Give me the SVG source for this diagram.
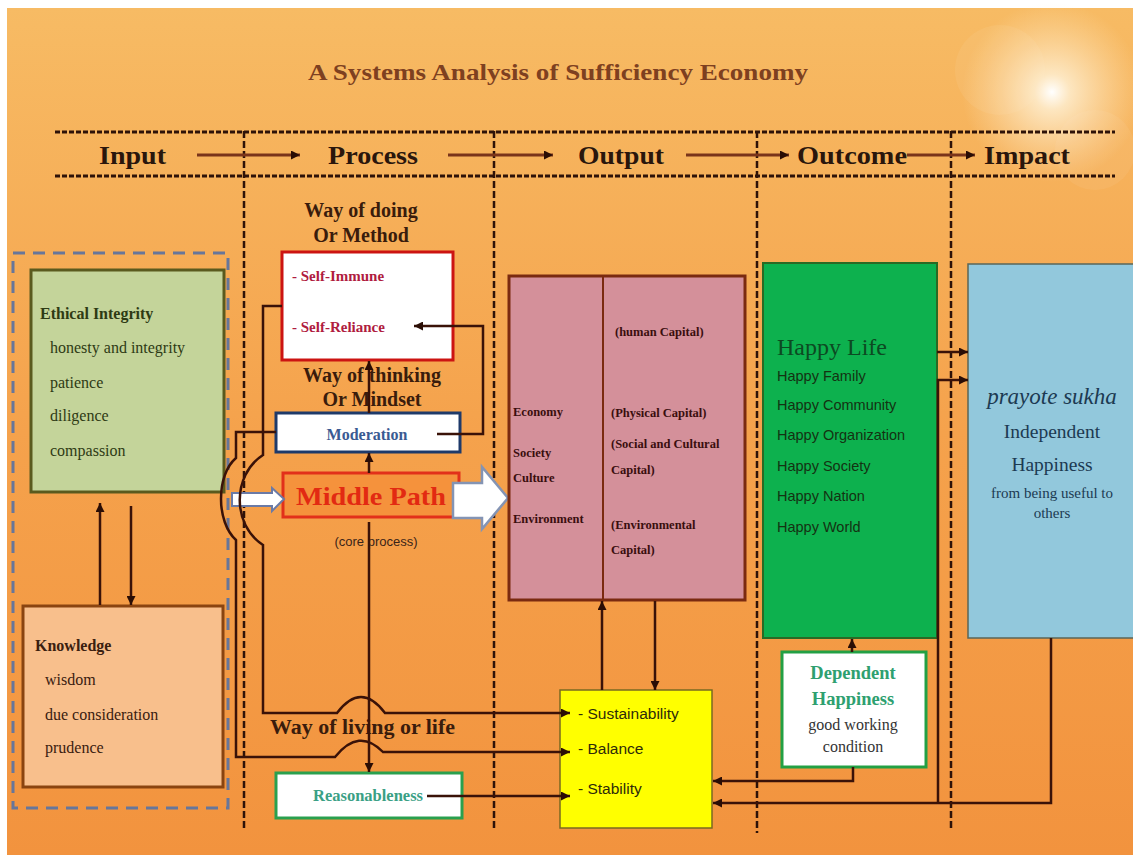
<svg xmlns="http://www.w3.org/2000/svg" width="1133" height="855" viewBox="0 0 1133 855">
  <defs>
    <linearGradient id="bg" x1="0" y1="0" x2="0" y2="1">
      <stop offset="0" stop-color="#f7bb64"/>
      <stop offset="0.5" stop-color="#f5a24c"/>
      <stop offset="1" stop-color="#f2933e"/>
    </linearGradient>
    <radialGradient id="sun" cx="0.5" cy="0.5" r="0.5">
      <stop offset="0" stop-color="#ffffff" stop-opacity="1"/>
      <stop offset="0.2" stop-color="#fff6e0" stop-opacity="0.75"/>
      <stop offset="1" stop-color="#ffe8c0" stop-opacity="0"/>
    </radialGradient>
    <marker id="ah" viewBox="0 0 10 10" refX="10" refY="5" markerWidth="9" markerHeight="9" markerUnits="userSpaceOnUse" orient="auto">
      <path d="M0,0 L10,5 L0,10 z" fill="#2a0d05"/>
    </marker>
  </defs>
  <style>
    .serif { font-family: "Liberation Serif", "Times New Roman", serif; }
    .sans { font-family: "Liberation Sans", Arial, sans-serif; }
    .hdr { font-family: "Liberation Serif", serif; font-weight: bold; font-size: 26px; fill: #2a160c; }
    .hline { stroke: #2e1208; stroke-width: 3; stroke-dasharray: 5 2; fill: none; }
    .vline { stroke: #2e1208; stroke-width: 2.5; stroke-dasharray: 7 3; fill: none; }
    .harrow { stroke: #7a341a; stroke-width: 3; fill: none; }
    .conn { stroke: #3a1208; stroke-width: 2.5; fill: none; }
    .sub { font-family: "Liberation Serif", serif; font-weight: bold; font-size: 20px; fill: #3a1c0c; }
    .eth { font-family: "Liberation Serif", serif; font-size: 16px; fill: #2e3a14; }
    .kno { font-family: "Liberation Serif", serif; font-size: 16px; fill: #3a2010; }
    .out { font-family: "Liberation Serif", serif; font-weight: bold; font-size: 12.5px; fill: #3a0e0e; }
    .hap { font-family: "Liberation Sans", sans-serif; font-size: 14.5px; fill: #143212; }
    .yel { font-family: "Liberation Sans", sans-serif; font-size: 15.5px; fill: #2e2a0a; }
    .imp { font-family: "Liberation Serif", serif; fill: #1c3a52; text-anchor: middle; }
  </style>

  <rect x="0" y="0" width="1133" height="855" fill="#ffffff"/>
  <rect x="7" y="8" width="1126" height="847" fill="url(#bg)"/>
  <circle cx="1052" cy="92" r="90" fill="url(#sun)"/>
  <circle cx="1000" cy="70" r="45" fill="#fff3dc" opacity="0.08"/>
  <circle cx="1095" cy="150" r="40" fill="#fff3dc" opacity="0.07"/>

  <text x="558" y="80" text-anchor="middle" class="serif" font-weight="bold" font-size="24" fill="#7e4020" textLength="500" lengthAdjust="spacingAndGlyphs">A Systems Analysis of Sufficiency Economy</text>

  <g id="header">
    <line x1="55" y1="132" x2="1115" y2="132" class="hline"/>
    <line x1="55" y1="176" x2="1115" y2="176" class="hline"/>
    <line x1="244" y1="131" x2="244" y2="828" class="vline"/>
    <line x1="494" y1="131" x2="494" y2="828" class="vline"/>
    <line x1="757" y1="131" x2="757" y2="833" class="vline"/>
    <line x1="951" y1="131" x2="951" y2="828" class="vline"/>
    <text x="99" y="164" class="hdr" textLength="67" lengthAdjust="spacingAndGlyphs">Input</text>
    <text x="328" y="164" class="hdr" textLength="90" lengthAdjust="spacingAndGlyphs">Process</text>
    <text x="578" y="164" class="hdr" textLength="86" lengthAdjust="spacingAndGlyphs">Output</text>
    <text x="797" y="164" class="hdr" textLength="110" lengthAdjust="spacingAndGlyphs">Outcome</text>
    <text x="984" y="164" class="hdr" textLength="86" lengthAdjust="spacingAndGlyphs">Impact</text>
    <line x1="197" y1="155" x2="300" y2="155" class="harrow" marker-end="url(#ah)"/>
    <line x1="448" y1="155" x2="553" y2="155" class="harrow" marker-end="url(#ah)"/>
    <line x1="686" y1="155" x2="789" y2="155" class="harrow" marker-end="url(#ah)"/>
    <line x1="907" y1="155" x2="975" y2="155" class="harrow" marker-end="url(#ah)"/>
  </g>

  <g id="input-group">
    <rect x="13" y="253" width="215" height="555" fill="none" stroke="#67769a" stroke-width="3" stroke-dasharray="12 8"/>
  </g>

  <g id="ethical-integrity">
    <rect x="31" y="270" width="193" height="222" fill="#c4d49a" stroke="#5a5a1e" stroke-width="3"/>
    <text x="40" y="319" class="eth" font-weight="bold" fill="#22280e">Ethical Integrity</text>
    <text x="50" y="353" class="eth">honesty and integrity</text>
    <text x="50" y="388" class="eth">patience</text>
    <text x="50" y="421" class="eth">diligence</text>
    <text x="50" y="456" class="eth">compassion</text>
  </g>

  <g id="knowledge">
    <rect x="23" y="606" width="200" height="181" fill="#f8bf8c" stroke="#8a4410" stroke-width="3"/>
    <text x="35" y="651" class="kno" font-weight="bold" fill="#2a140a">Knowledge</text>
    <text x="45" y="685" class="kno">wisdom</text>
    <text x="45" y="720" class="kno">due consideration</text>
    <text x="45" y="753" class="kno">prudence</text>
  </g>

  <g id="process-labels">
    <text x="361" y="217" text-anchor="middle" class="sub">Way of doing</text>
    <text x="361" y="242" text-anchor="middle" class="sub">Or Method</text>
    <text x="372" y="382" text-anchor="middle" class="sub">Way of thinking</text>
    <text x="372" y="406" text-anchor="middle" class="sub">Or Mindset</text>
    <text x="270" y="734" class="sub" textLength="185" lengthAdjust="spacingAndGlyphs">Way of living or life</text>
  </g>

  <g id="self-box">
    <rect x="282" y="252" width="171" height="108" fill="#ffffff" stroke="#cc1412" stroke-width="3"/>
    <text x="292" y="281" class="serif" font-weight="bold" font-size="15" fill="#b01c40">- Self-Immune</text>
    <text x="292" y="332" class="serif" font-weight="bold" font-size="15" fill="#b01c40">- Self-Reliance</text>
  </g>

  <g id="moderation">
    <rect x="276" y="413" width="184" height="39" fill="#ffffff" stroke="#1e3a6a" stroke-width="3"/>
    <text x="367" y="440" text-anchor="middle" class="serif" font-weight="bold" font-size="16" fill="#3a5a92">Moderation</text>
  </g>

  <g id="middle-path">
    <rect x="283" y="473" width="176" height="44" fill="#f5923c" stroke="#e2301a" stroke-width="3"/>
    <text x="371" y="505" text-anchor="middle" class="serif" font-weight="bold" font-size="26" fill="#e22a12" textLength="150" lengthAdjust="spacingAndGlyphs">Middle Path</text>
    <text x="376" y="546" text-anchor="middle" class="sans" font-size="13" fill="#3a2418">(core process)</text>
  </g>

  <g id="reasonableness">
    <rect x="276" y="773" width="186" height="45" fill="#ffffff" stroke="#2aa04e" stroke-width="3"/>
    <text x="368" y="801" text-anchor="middle" class="serif" font-weight="bold" font-size="16.5" fill="#3aa085">Reasonableness</text>
  </g>

  <g id="input-arrow">
    <polygon points="232,493 272,493 272,488 284,499 272,511 272,506 232,506" fill="#ffffff" stroke="#6a7aa6" stroke-width="2"/>
  </g>
  <g id="output-arrow">
    <polygon points="453,483 482,483 482,467 508,498 482,529 482,518 453,518" fill="#ffffff" stroke="#8494b4" stroke-width="2.5"/>
  </g>

  <g id="output">
    <rect x="509" y="276" width="236" height="324" fill="#d4909a" stroke="#7a2a10" stroke-width="3"/>
    <line x1="603" y1="276" x2="603" y2="600" stroke="#7a2a10" stroke-width="2"/>
    <text x="513" y="416" class="out">Economy</text>
    <text x="513" y="457" class="out">Society</text>
    <text x="513" y="482" class="out">Culture</text>
    <text x="513" y="523" class="out">Environment</text>
    <text x="615" y="336" class="out">(human Capital)</text>
    <text x="611" y="417" class="out">(Physical Capital)</text>
    <text x="611" y="448" class="out">(Social and Cultural</text>
    <text x="611" y="474" class="out">Capital)</text>
    <text x="611" y="529" class="out">(Environmental</text>
    <text x="611" y="554" class="out">Capital)</text>
  </g>

  <g id="results">
    <rect x="560" y="690" width="152" height="138" fill="#ffff00" stroke="#7a6a20" stroke-width="1.5"/>
    <text x="578" y="719" class="yel">- Sustainability</text>
    <text x="578" y="754" class="yel">- Balance</text>
    <text x="578" y="794" class="yel">- Stability</text>
  </g>

  <g id="happy-life">
    <rect x="763" y="263" width="174" height="375" fill="#0db14e" stroke="#2a6a24" stroke-width="2"/>
    <text x="777" y="355" class="serif" font-size="24" fill="#0c4a22">Happy Life</text>
    <text x="777" y="381" class="hap">Happy Family</text>
    <text x="777" y="410" class="hap">Happy Community</text>
    <text x="777" y="440" class="hap">Happy Organization</text>
    <text x="777" y="471" class="hap">Happy Society</text>
    <text x="777" y="501" class="hap">Happy Nation</text>
    <text x="777" y="532" class="hap">Happy World</text>
  </g>

  <g id="dependent-happiness">
    <rect x="782" y="652" width="144" height="115" fill="#ffffff" stroke="#22a044" stroke-width="3"/>
    <text x="853" y="679" text-anchor="middle" class="serif" font-weight="bold" font-size="18.5" fill="#2ea070">Dependent</text>
    <text x="853" y="705" text-anchor="middle" class="serif" font-weight="bold" font-size="18.5" fill="#2ea070">Happiness</text>
    <text x="853" y="730" text-anchor="middle" class="serif" font-size="16" fill="#333333">good working</text>
    <text x="853" y="752" text-anchor="middle" class="serif" font-size="16" fill="#333333">condition</text>
  </g>

  <g id="impact">
    <rect x="968" y="264" width="170" height="374" fill="#92c8dc" stroke="#5a6658" stroke-width="1.5"/>
    <text x="1052" y="404" class="imp" font-style="italic" font-size="23">prayote sukha</text>
    <text x="1052" y="438" class="imp" font-size="19.5">Independent</text>
    <text x="1052" y="471" class="imp" font-size="19.5">Happiness</text>
    <text x="1052" y="498" class="imp" font-size="15">from being useful to</text>
    <text x="1052" y="518" class="imp" font-size="15">others</text>
  </g>

  <g id="connectors">
    <line x1="100" y1="605" x2="100" y2="503" class="conn" marker-end="url(#ah)"/>
    <line x1="131" y1="506" x2="131" y2="605" class="conn" marker-end="url(#ah)"/>
    <path d="M282,306 L263,306 L263,455 C232,475 232,525 263,545 L263,713 L337,713 Q361,681 385,713 L570,713" class="conn" marker-end="url(#ah)"/>
    <path d="M276,432 L236,432 L236,458 C216,475 216,522 236,540 L236,757 L335,757 Q359,727 383,752 L570,752" class="conn" marker-end="url(#ah)"/>
    <path d="M437,434 L483,434 L483,326 L414,326" class="conn" marker-end="url(#ah)"/>
    <line x1="369" y1="473" x2="369" y2="453" class="conn" marker-end="url(#ah)"/>
    <line x1="369" y1="413" x2="369" y2="361" class="conn" marker-end="url(#ah)"/>
    <line x1="369" y1="522" x2="369" y2="772" class="conn" marker-end="url(#ah)"/>
    <line x1="427" y1="796" x2="570" y2="796" class="conn" marker-end="url(#ah)"/>
    <line x1="602" y1="690" x2="602" y2="601" class="conn" marker-end="url(#ah)"/>
    <line x1="655" y1="601" x2="655" y2="690" class="conn" marker-end="url(#ah)"/>
    <line x1="852" y1="652" x2="852" y2="639" class="conn" marker-end="url(#ah)"/>
    <path d="M853,767 L853,781 L713,781" class="conn" marker-end="url(#ah)"/>
    <path d="M1051,638 L1051,803 L713,803" class="conn" marker-end="url(#ah)"/>
    <path d="M938,803 L938,380 L968,380" class="conn" marker-end="url(#ah)"/>
    <line x1="937" y1="352" x2="968" y2="352" class="conn" marker-end="url(#ah)"/>
  </g>
</svg>
